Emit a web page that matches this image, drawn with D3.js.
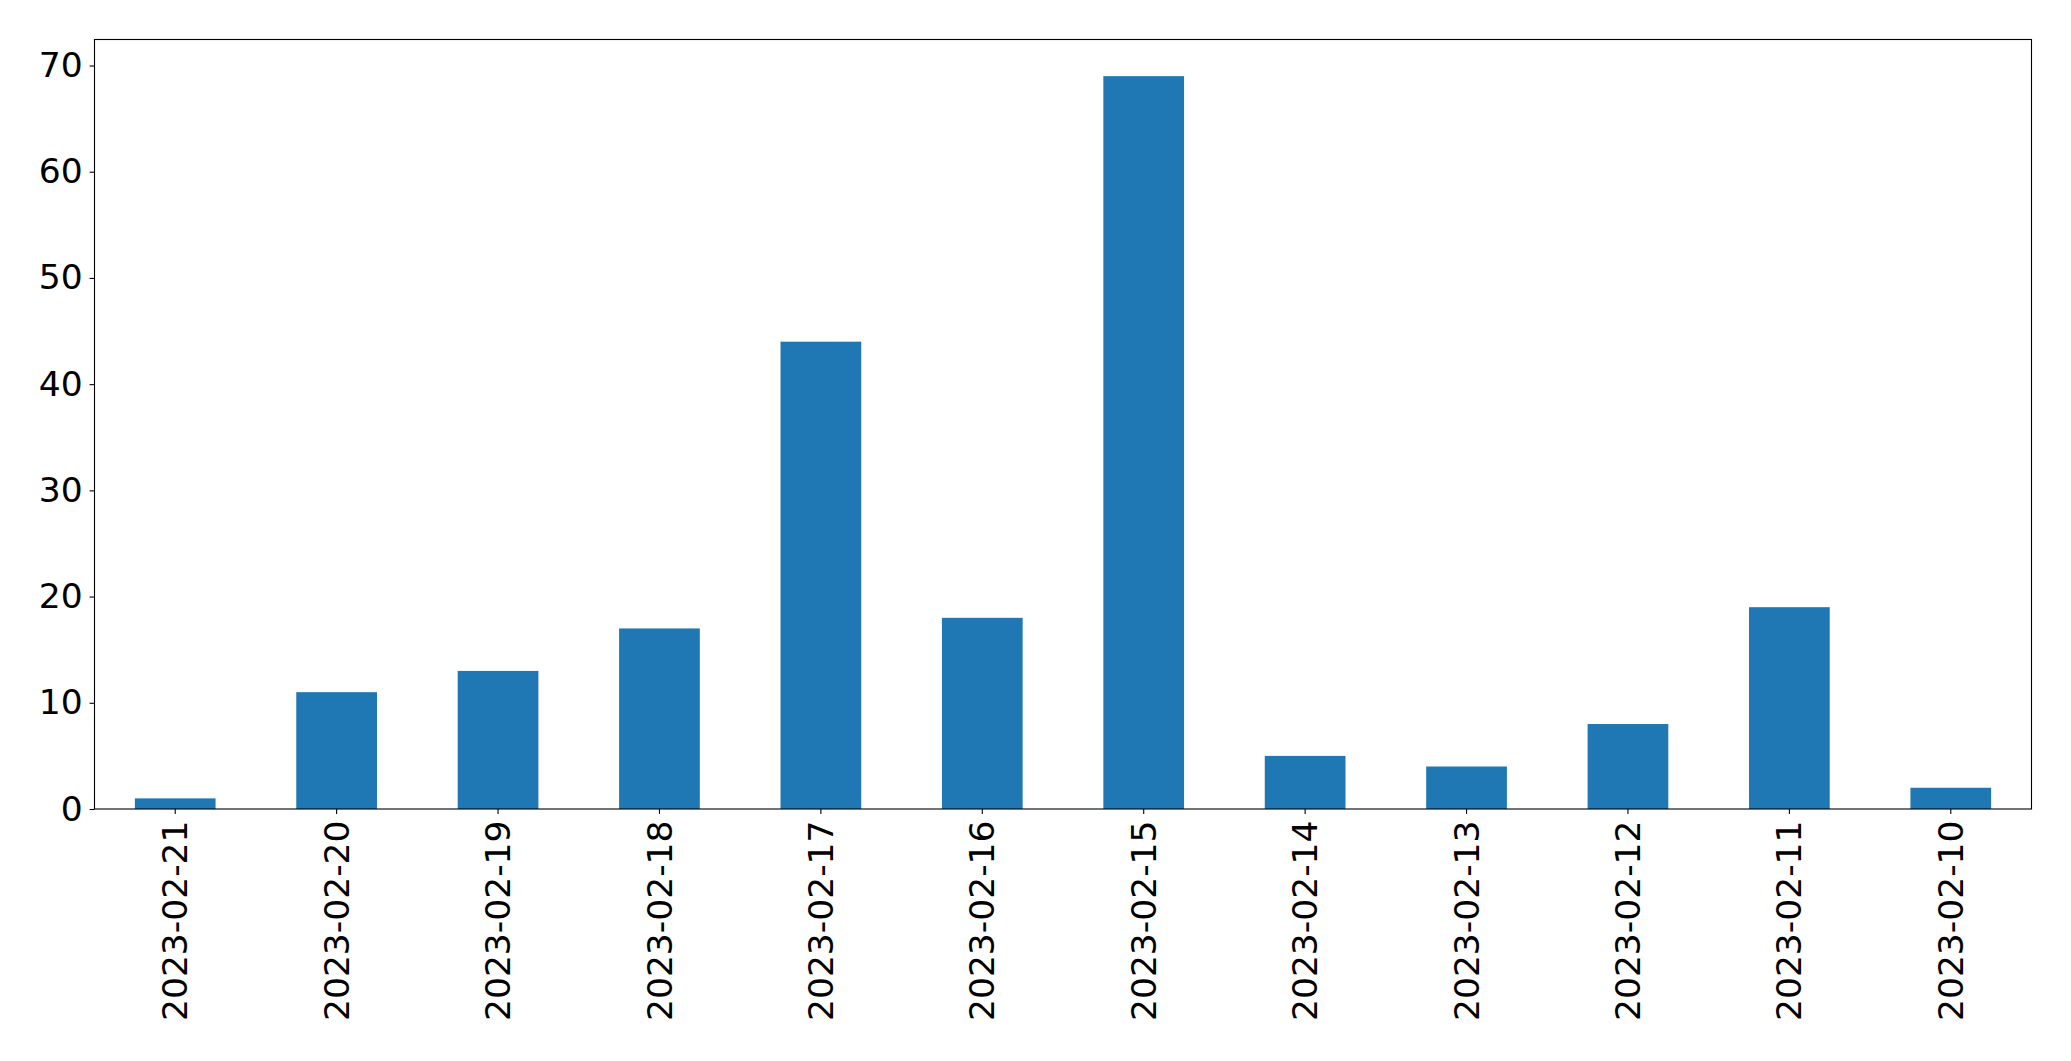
<!DOCTYPE html>
<html><head><meta charset="utf-8">
<script src="https://cdn.jsdelivr.net/npm/d3@7"></script>
<style>body{margin:0;background:#fff;} svg{display:block;} text{font-family:"DejaVu Sans",sans-serif;}</style>
</head><body>
<svg id="chart" width="2071" height="1061"></svg>
<script>
const categories = ["2023-02-21","2023-02-20","2023-02-19","2023-02-18","2023-02-17","2023-02-16","2023-02-15","2023-02-14","2023-02-13","2023-02-12","2023-02-11","2023-02-10"];
const values = [1, 11, 13, 17, 44, 18, 69, 5, 4, 8, 19, 2];
const yTicks = [0, 10, 20, 30, 40, 50, 60, 70];

const svg = d3.select("#chart");
const L = 94.5, R = 2031.5, T = 39.5, B = 809;
const fs = 34.5;

const x = d3.scaleBand().domain(categories).range([L, R]).paddingInner(0.5).paddingOuter(0.25);
const y = d3.scaleLinear().domain([0, d3.max(values) * 1.05]).range([B, T]);

svg.append("g").selectAll("rect").data(values).join("rect")
  .attr("x", (d, i) => x(categories[i]))
  .attr("width", x.bandwidth())
  .attr("y", d => y(d))
  .attr("height", d => B - y(d))
  .attr("fill", "#1f77b4");

const yAxis = svg.append("g").attr("transform", `translate(${L},0)`)
  .call(d3.axisLeft(y).tickValues(yTicks).tickSize(4.9).tickPadding(7).tickFormat(d3.format("d")));
yAxis.select(".domain").remove();
yAxis.selectAll("line").attr("stroke", "#000").attr("stroke-width", 1.1);
yAxis.selectAll("text").attr("font-size", fs).attr("fill", "#000").attr("font-family", "DejaVu Sans");

const xAxis = svg.append("g").attr("transform", `translate(0,${B})`)
  .call(d3.axisBottom(x).tickSize(4.9).tickPadding(0));
xAxis.select(".domain").remove();
xAxis.selectAll("line").attr("stroke", "#000").attr("stroke-width", 1.1);
xAxis.selectAll("text")
  .attr("font-size", fs).attr("fill", "#000").attr("font-family", "DejaVu Sans")
  .attr("transform", "translate(0,11.5) rotate(-90)")
  .attr("text-anchor", "end").attr("dy", "0.35em").attr("x", 0).attr("y", 0);

svg.append("rect").attr("x", L).attr("y", T).attr("width", R - L).attr("height", B - T)
  .attr("fill", "none").attr("stroke", "#000").attr("stroke-width", 1.1);
</script>
</body></html>
